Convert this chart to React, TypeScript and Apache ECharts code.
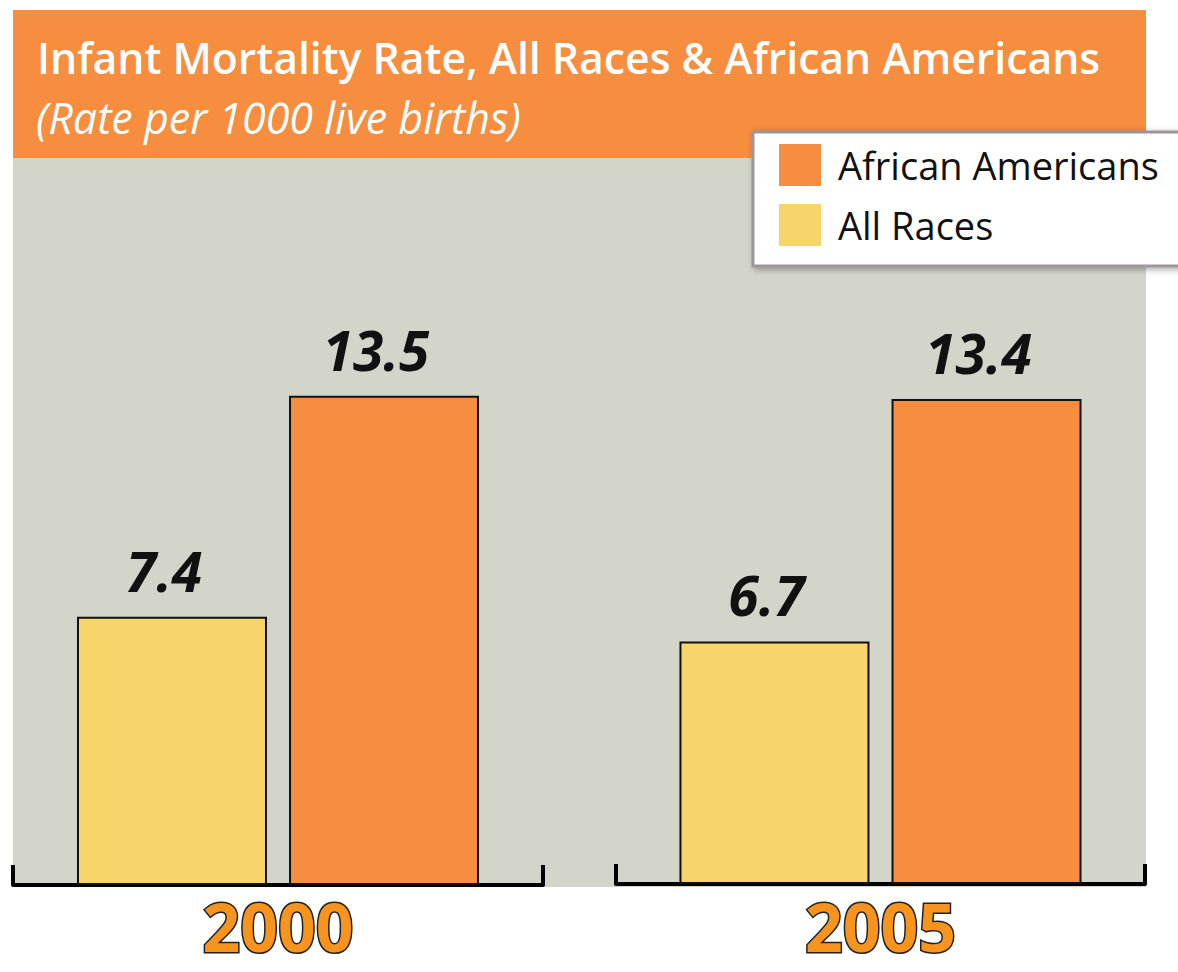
import React, { useEffect, useRef } from "react";
import * as echarts from "echarts";

const YEARS = ["2000", "2005"];
const ALL_RACES = [7.4, 6.7];
const AFRICAN_AMERICANS = [13.5, 13.4];
const LEGEND_NAMES = ["African Americans", "All Races"];
const TITLE = "Infant Mortality Rate, All Races & African Americans";
const SUBTITLE = "(Rate per 1000 live births)";

const ORANGE = "#F68D3F";
const YELLOW = "#F7D56A";
const GRAY = "#D3D4CA";
const FONT = "'Open Sans', 'Noto Sans', sans-serif";

export default function App() {
  const ref = useRef<HTMLDivElement>(null);
  useEffect(() => {
    if (!ref.current) return;
    const chart = echarts.init(ref.current, undefined, { renderer: "svg" });

    const grids = [
      { left: 13, width: 530, top: 160, bottom: 87, containLabel: false, outerBoundsMode: "none" },
      { left: 616, width: 529, top: 160, bottom: 88, containLabel: false, outerBoundsMode: "none" },
    ];

    const labelStyle = {
      show: true,
      position: "top",
      distance: 19,
      offset: [-8, 0],
      color: "#111",
      fontSize: 55,
      fontWeight: "bold",
      fontStyle: "italic",
      fontFamily: FONT,
      formatter: (p: any) => Number(p.value).toFixed(1),
    };

    const series: any[] = [];
    YEARS.forEach((_, i) => {
      series.push({
        type: "bar",
        name: "All Races",
        xAxisIndex: i,
        yAxisIndex: i,
        data: [ALL_RACES[i]],
        barWidth: 190,
        barGap: "11.6%",
        itemStyle: { color: YELLOW, borderColor: "#111", borderWidth: 2 },
        label: labelStyle,
      });
      series.push({
        type: "bar",
        name: "African Americans",
        xAxisIndex: i,
        yAxisIndex: i,
        data: [AFRICAN_AMERICANS[i]],
        barWidth: 190,
        barGap: "11.6%",
        itemStyle: { color: ORANGE, borderColor: "#111", borderWidth: 2 },
        label: labelStyle,
      });
    });

    chart.setOption({
      animation: false,
      backgroundColor: "#fff",
      graphic: [
        { type: "rect", z: 0, shape: { x: 13, y: 10, width: 1133, height: 148 }, style: { fill: ORANGE } },
        { type: "rect", z: 0, shape: { x: 13, y: 158, width: 1133, height: 729 }, style: { fill: GRAY } },
      ],
      title: [
        {
          text: TITLE,
          left: 37,
          top: 36,
          padding: 0,
          textStyle: { color: "#fff", fontSize: 42.7, fontWeight: 600, fontFamily: FONT },
        },
        {
          text: SUBTITLE,
          left: 36,
          top: 94,
          padding: 0,
          textStyle: { color: "#fff", fontSize: 43, lineHeight: 46, fontWeight: 400, fontStyle: "italic", fontFamily: FONT },
        },
      ],
      legend: {
        data: LEGEND_NAMES,
        orient: "vertical",
        left: 753,
        top: 132,
        icon: "rect",
        itemWidth: 42,
        itemHeight: 42,
        itemGap: 18,
        padding: [12, 40, 20, 26],
        backgroundColor: "#fff",
        borderColor: "#9c959b",
        borderWidth: 3,
        shadowColor: "rgba(0,0,0,0.35)",
        shadowBlur: 6,
        shadowOffsetX: 2,
        shadowOffsetY: 2,
        itemStyle: { borderWidth: 0 },
        textStyle: { fontSize: 38, color: "#111", fontFamily: FONT, padding: [4, 0, 0, 12] },
      },
      grid: grids,
      xAxis: YEARS.map((y, i) => ({
        type: "category",
        gridIndex: i,
        data: [y],
        boundaryGap: true,
        axisLine: { show: true, lineStyle: { color: "#000", width: 4 } },
        axisTick: { show: true, inside: true, length: 20, lineStyle: { color: "#000", width: 4 } },
        axisLabel: {
          margin: i === 0 ? 15 : 16,
          color: "#F7941D",
          fontSize: 66,
          lineHeight: 52,
          fontWeight: "bold",
          fontFamily: FONT,
          textBorderColor: "#222",
          textBorderWidth: 3,
        },
      })),
      yAxis: YEARS.map((_, i) => ({
        type: "value",
        gridIndex: i,
        min: 0,
        max: 20,
        show: false,
        splitLine: { show: false },
      })),
      series,
    });
    return () => chart.dispose();
  }, []);
  return (
    <div
      ref={ref}
      style={{ position: "absolute", left: 0, top: 0, width: 1178, height: 972 }}
    />
  );
}
